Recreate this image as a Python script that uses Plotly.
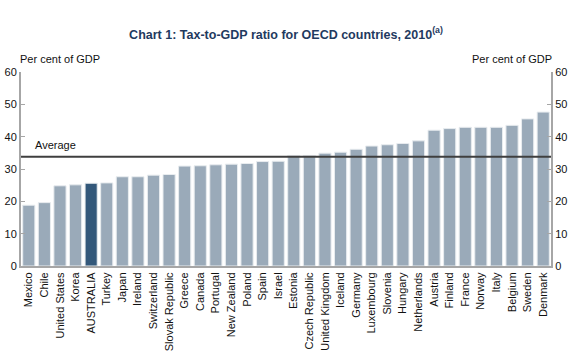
import plotly.graph_objects as go

countries = ["Mexico", "Chile", "United States", "Korea", "AUSTRALIA", "Turkey", "Japan",
             "Ireland", "Switzerland", "Slovak Republic", "Greece", "Canada", "Portugal",
             "New Zealand", "Poland", "Spain", "Israel", "Estonia", "Czech Republic",
             "United Kingdom", "Iceland", "Germany", "Luxembourg", "Slovenia", "Hungary",
             "Netherlands", "Austria", "Finland", "France", "Norway", "Italy", "Belgium",
             "Sweden", "Denmark"]
tax_to_gdp = [18.8, 19.6, 24.8, 25.1, 25.6, 25.7, 27.6, 27.6, 28.1, 28.3, 30.9, 31.0, 31.3,
              31.5, 31.7, 32.3, 32.4, 34.2, 34.2, 34.9, 35.2, 36.1, 37.1, 37.5, 37.9, 38.7,
              42.0, 42.5, 42.9, 42.9, 42.9, 43.5, 45.5, 47.6]
oecd_average = 33.8
y_ticks = [0, 10, 20, 30, 40, 50, 60]

light = "#9AAAB9"
dark = "#33587A"
colors = [dark if c == "AUSTRALIA" else light for c in countries]

font_fam = "Arial, Liberation Sans, sans-serif"
axis_col = "#A6A6A6"
txt_col = "#111111"

fig = go.Figure()
fig.add_trace(go.Bar(x=countries, y=tax_to_gdp, marker=dict(color=colors,
                     line=dict(color="#E8ECEF", width=1)), showlegend=False, hoverinfo="x+y"))
fig.add_trace(go.Scatter(x=[countries[0], countries[-1]], y=[None, None], yaxis="y2",
                         showlegend=False, hoverinfo="skip"))

fig.add_shape(type="line", xref="paper", x0=0, x1=1, yref="y", y0=oecd_average, y1=oecd_average,
              line=dict(color="#3F3F3F", width=2), layer="above")

fig.add_annotation(text="Average", xref="paper", x=0.022, xanchor="left", yref="y", y=oecd_average + 1.0,
                   yanchor="bottom", showarrow=False, font=dict(family=font_fam, size=11, color=txt_col))
fig.add_annotation(text="Per cent of GDP", xref="paper", x=-0.006, xanchor="left", yref="paper", y=1.025,
                   yanchor="bottom", showarrow=False, font=dict(family=font_fam, size=11, color=txt_col))
fig.add_annotation(text="Per cent of GDP", xref="paper", x=1.006, xanchor="right", yref="paper", y=1.025,
                   yanchor="bottom", showarrow=False, font=dict(family=font_fam, size=11, color=txt_col))

fig.update_layout(
    width=578, height=360,
    margin=dict(l=21, r=27, t=72, b=94, autoexpand=False),
    paper_bgcolor="white", plot_bgcolor="white",
    bargap=0.22,
    title=dict(text="<b>Chart 1: Tax-to-GDP ratio for OECD countries, 2010<sup>(a)</sup></b>",
               xref="paper", x=0.5, xanchor="center", yref="container", y=0.905, yanchor="middle",
               font=dict(family=font_fam, size=12.5, color="#1F3A60")),
    xaxis=dict(tickangle=-90, showline=True, linecolor=axis_col, linewidth=2, ticks="",
               tickfont=dict(family=font_fam, size=11, color=txt_col), showgrid=False,
               automargin=False, range=[-0.5, len(countries) - 0.5]),
    yaxis=dict(range=[0, 60], tickvals=y_ticks, showgrid=False, zeroline=False, automargin=False,
               showline=True, linecolor=axis_col, linewidth=2, ticks="inside", ticklen=4,
               tickcolor=axis_col, tickfont=dict(family=font_fam, size=11, color=txt_col)),
    yaxis2=dict(range=[0, 60], tickvals=y_ticks, overlaying="y", side="right", showgrid=False,
                zeroline=False, showline=True, linecolor=axis_col, linewidth=2, ticks="inside",
                automargin=False, ticklen=4, tickcolor=axis_col,
                tickfont=dict(family=font_fam, size=11, color=txt_col)),
    font=dict(family=font_fam),
)

fig.write_html("out.html", config={"displayModeBar": False},
               post_script="document.body.style.margin='0px';")
